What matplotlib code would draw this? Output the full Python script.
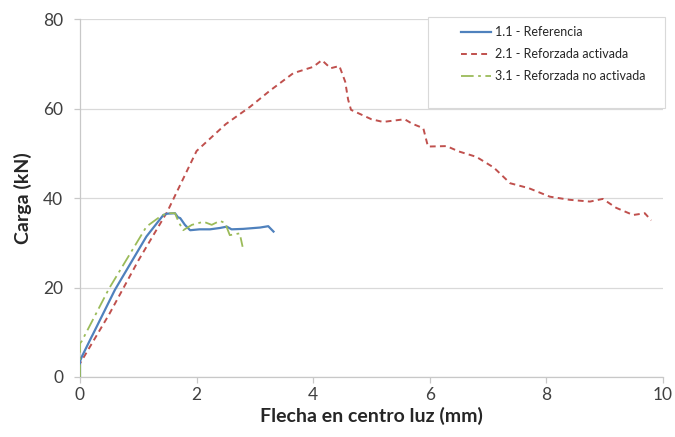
import matplotlib
matplotlib.use("Agg")
import matplotlib.pyplot as plt
from matplotlib.patches import Rectangle

plt.rcParams['font.family'] = ['Lato', 'DejaVu Sans']

# Series 1.1 - Referencia
x_ref = [0.0, 0.0, 0.03, 0.2, 0.22, 0.6, 1.14, 1.43, 1.5, 1.63, 1.68, 1.72, 1.8, 1.89, 2.05, 2.23, 2.4, 2.52, 2.6, 2.8, 3.09, 3.23, 3.32]
y_ref = [0.0, 3.5, 4.5, 9.0, 9.5, 19.5, 31.4, 36.2, 36.5, 36.6, 35.7, 35.5, 34.0, 32.8, 33.0, 33.0, 33.3, 33.6, 33.0, 33.1, 33.4, 33.7, 32.5]

# Series 2.1 - Reforzada activada
x_act = [0.0, 0.0, 0.5, 1.0, 1.5, 2.0, 2.5, 2.92, 3.26, 3.66, 4.0, 4.15, 4.3, 4.45, 4.55, 4.6, 4.65, 5.0, 5.2, 5.57, 5.7, 5.89, 5.97, 6.29, 6.5, 6.8, 7.1, 7.38, 7.7, 8.06, 8.4, 8.75, 8.97, 9.2, 9.49, 9.69, 9.8]
y_act = [0.0, 3.0, 14.0, 26.0, 37.0, 50.5, 56.5, 60.4, 64.0, 67.9, 69.3, 70.8, 69.0, 69.5, 66.0, 62.0, 59.7, 57.6, 57.0, 57.6, 56.6, 55.6, 51.5, 51.6, 50.4, 49.2, 46.8, 43.3, 42.2, 40.3, 39.6, 39.2, 39.8, 37.8, 36.2, 36.6, 35.0]

# Series 3.1 - Reforzada no activada
x_noact = [0.0, 0.0, 0.03, 0.5, 1.14, 1.37, 1.49, 1.63, 1.69, 1.77, 1.92, 2.12, 2.26, 2.4, 2.49, 2.57, 2.74, 2.79]
y_noact = [0.0, 7.5, 8.0, 19.8, 33.6, 35.8, 36.6, 36.6, 34.7, 32.8, 34.0, 34.7, 34.0, 34.9, 34.4, 31.7, 32.1, 29.1]

fig = plt.figure(figsize=(6.75, 4.37), dpi=100)
ax = fig.add_axes([0.1185, 0.1373, 0.8635, 0.8192])

ax.plot(x_ref, y_ref, color='#4F81BD', lw=1.6, label='1.1 - Referencia', zorder=3)
ax.plot(x_act, y_act, color='#C0504D', lw=1.4, ls=(0, (3, 2.2)), label='2.1 - Reforzada activada', zorder=2)
ax.plot(x_noact, y_noact, color='#9BBB59', lw=1.3, ls=(0, (7, 2.5, 1.5, 2.5)), label='3.1 - Reforzada no activada', zorder=4)

ax.set_xlim(0, 10)
ax.set_ylim(0, 80)
ax.set_xticks([0, 2, 4, 6, 8, 10])
ax.set_yticks([0, 20, 40, 60, 80])
ax.yaxis.grid(True, color='#D9D9D9', lw=0.9)
ax.set_axisbelow(True)
for s in ['top', 'right']:
    ax.spines[s].set_visible(False)
for s in ['left', 'bottom']:
    ax.spines[s].set_color('#C8C8C8')
    ax.spines[s].set_linewidth(0.9)
ax.tick_params(axis='both', colors='#C8C8C8', labelcolor='#404040', labelsize=12.5, length=4, width=0.9)
ax.tick_params(axis='x', pad=3)
ax.tick_params(axis='y', pad=8)

ax.set_xlabel('Flecha en centro luz (mm)', fontsize=14, fontweight='bold', color='#262626', labelpad=3)
ax.set_ylabel('Carga (kN)', fontsize=14, fontweight='bold', color='#262626', labelpad=8)

box = Rectangle((428 / 675, 1 - 108 / 437), 237 / 675, 91 / 437, transform=fig.transFigure,
                facecolor='white', edgecolor='#D9D9D9', lw=0.8, zorder=5, clip_on=False)
ax.add_artist(box)
leg = ax.legend(loc='upper left', bbox_to_anchor=(461 / 675, 1 - 26 / 437), bbox_transform=fig.transFigure,
                fontsize=9, frameon=False, handlelength=2.4, labelspacing=0.8, borderpad=0, handletextpad=0.35,
                borderaxespad=0)
leg.set_zorder(6)
for t in leg.get_texts():
    t.set_color('#262626')

fig.savefig('out.png', dpi=100)
